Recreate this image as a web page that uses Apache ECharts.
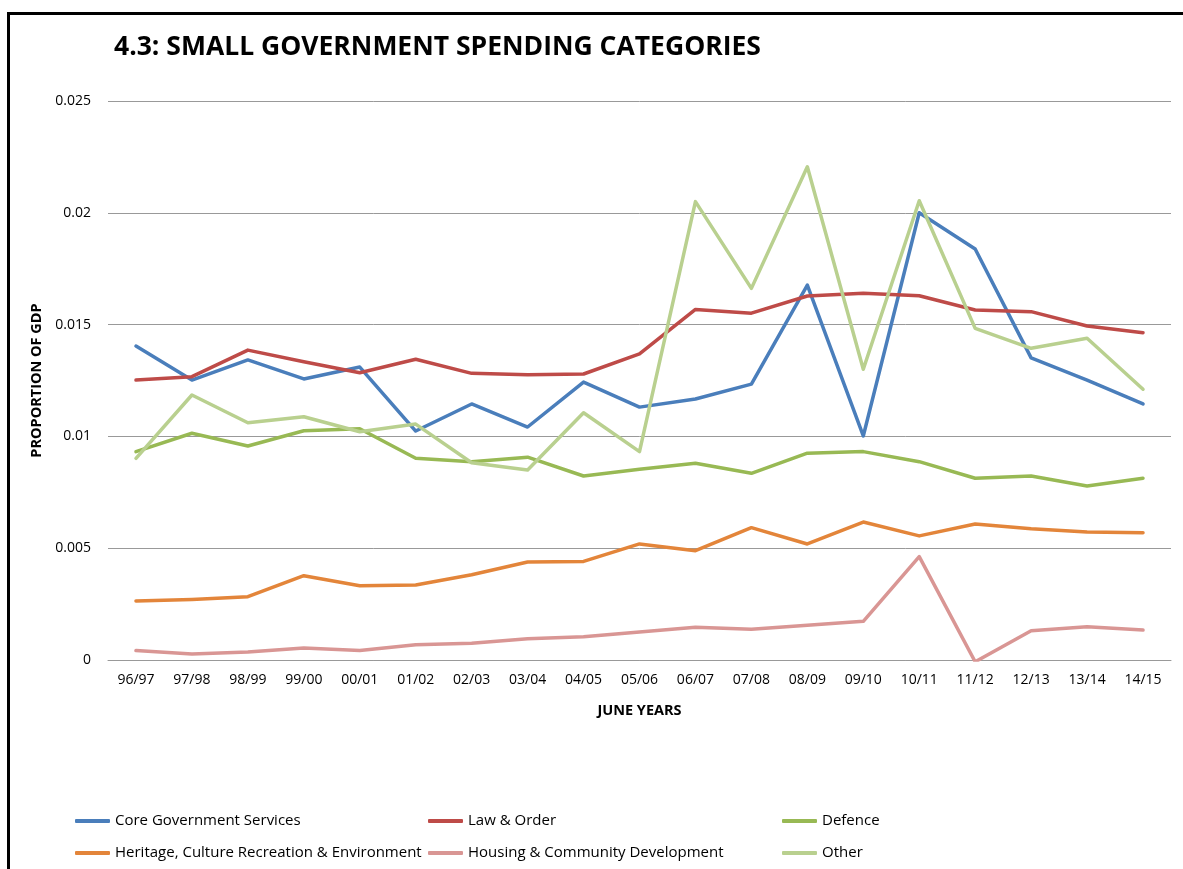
<!DOCTYPE html>
<html>
<head>
<meta charset="utf-8">
<title>4.3: Small Government Spending Categories</title>
<script src="https://cdn.jsdelivr.net/npm/echarts@6/dist/echarts.min.js"></script>
<style>
  html, body { margin: 0; padding: 0; background: #ffffff; }
  #chart { width: 1183px; height: 869px; }
</style>
</head>
<body>
<div id="chart"></div>
<script>
// June years on the category axis
const years = ['96/97', '97/98', '98/99', '99/00', '00/01', '01/02', '02/03', '03/04', '04/05', '05/06',
  '06/07', '07/08', '08/09', '09/10', '10/11', '11/12', '12/13', '13/14', '14/15'];

// Spending as a proportion of GDP
const coreGovernment = [0.01404, 0.01252, 0.01342, 0.01257, 0.01310, 0.01024, 0.01145, 0.01042, 0.01243, 0.01131,
  0.01167, 0.01234, 0.01677, 0.01002, 0.02000, 0.01838, 0.01351, 0.01252, 0.01145];
const lawOrder = [0.01252, 0.01267, 0.01386, 0.01334, 0.01285, 0.01345, 0.01282, 0.01276, 0.01279, 0.01369,
  0.01568, 0.01551, 0.01628, 0.01640, 0.01629, 0.01565, 0.01558, 0.01494, 0.01464];
const defence = [0.00932, 0.01014, 0.00957, 0.01025, 0.01034, 0.00902, 0.00887, 0.00907, 0.00823, 0.00853,
  0.00880, 0.00835, 0.00925, 0.00932, 0.00887, 0.00813, 0.00823, 0.00778, 0.00813];
const heritage = [0.00264, 0.00271, 0.00283, 0.00377, 0.00332, 0.00335, 0.00381, 0.00438, 0.00441, 0.00519,
  0.00489, 0.00592, 0.00519, 0.00617, 0.00555, 0.00608, 0.00587, 0.00572, 0.00569];
const housing = [0.00042, 0.00027, 0.00036, 0.00054, 0.00042, 0.00068, 0.00075, 0.00095, 0.00104, 0.00125,
  0.00146, 0.00137, 0.00155, 0.00173, 0.00462, -0.00008, 0.00131, 0.00149, 0.00134];
const other = [0.00902, 0.01185, 0.01061, 0.01088, 0.01021, 0.01055, 0.00882, 0.00850, 0.01106, 0.00932,
  0.02050, 0.01662, 0.02206, 0.01300, 0.02054, 0.01483, 0.01394, 0.01439, 0.01211];

// Value axis ticks
const yMin = 0, yMax = 0.025, yStep = 0.005;

const seriesDefs = [
  { name: 'Core Government Services', data: coreGovernment, color: '#4A7EBB' },
  { name: 'Law & Order', data: lawOrder, color: '#BE4B48' },
  { name: 'Defence', data: defence, color: '#98B954' },
  { name: 'Heritage, Culture Recreation & Environment', data: heritage, color: '#E3853A' },
  { name: 'Housing & Community Development', data: housing, color: '#D99694' },
  { name: 'Other', data: other, color: '#B9D08F' }
];

const font = '"Open Sans", "Liberation Sans", sans-serif';

// Legend laid out as a 3 x 2 table: one legend entry per cell
const legendColumns = [75, 428, 782];
const legendRows = [811, 843];

function legendCell(name, col, row) {
  return {
    orient: 'horizontal',
    left: legendColumns[col],
    top: legendRows[row],
    padding: 0,
    data: [name],
    icon: 'roundRect',
    itemWidth: 35,
    itemHeight: 4,
    textStyle: { fontFamily: font, fontSize: 15, color: '#000', lineHeight: 20 },
    selectedMode: false
  };
}

const chart = echarts.init(document.getElementById('chart'), null, { renderer: 'canvas' });
chart.setOption({
  backgroundColor: '#ffffff',
  animation: false,
  title: {
    text: '4.3: SMALL GOVERNMENT SPENDING CATEGORIES',
    left: 114,
    top: 34,
    padding: 0,
    textStyle: { fontFamily: font, fontWeight: 'bold', fontSize: 26.5, color: '#000' }
  },
  graphic: [{
    type: 'rect',
    shape: { x: 8.5, y: 13.5, width: 1250, height: 950 },
    style: { fill: null, stroke: '#000', lineWidth: 3 },
    silent: true
  }],
  legend: seriesDefs.map((s, i) => legendCell(s.name, i % 3, Math.floor(i / 3))),
  grid: { left: 108, right: 12, top: 101, bottom: 209, containLabel: false },
  xAxis: {
    type: 'category',
    data: years,
    boundaryGap: true,
    name: 'JUNE YEARS',
    nameLocation: 'middle',
    nameGap: 43,
    nameTextStyle: { fontFamily: font, fontWeight: 'bold', fontSize: 14.5, color: '#000' },
    axisLine: { show: true, lineStyle: { color: '#999', width: 1 } },
    axisTick: { show: false },
    axisLabel: { fontFamily: font, fontSize: 14, color: '#000', margin: 13, interval: 0 }
  },
  yAxis: {
    type: 'value',
    min: yMin,
    max: yMax,
    interval: yStep,
    name: 'PROPORTION OF GDP',
    nameLocation: 'middle',
    nameGap: 63,
    nameRotate: 90,
    nameTextStyle: { fontFamily: font, fontWeight: 'bold', fontSize: 14.5, color: '#000' },
    axisLine: { show: false },
    axisTick: { show: false },
    splitLine: { show: true, lineStyle: { color: '#999', width: 1 } },
    axisLabel: { fontFamily: font, fontSize: 14, color: '#000', margin: 17 }
  },
  series: seriesDefs.map(s => ({
    name: s.name,
    type: 'line',
    data: s.data,
    symbol: 'none',
    showSymbol: false,
    smooth: false,
    color: s.color,
    lineStyle: { color: s.color, width: 3.5, cap: 'round', join: 'round' },
    itemStyle: { color: s.color }
  }))
});
</script>
</body>
</html>
